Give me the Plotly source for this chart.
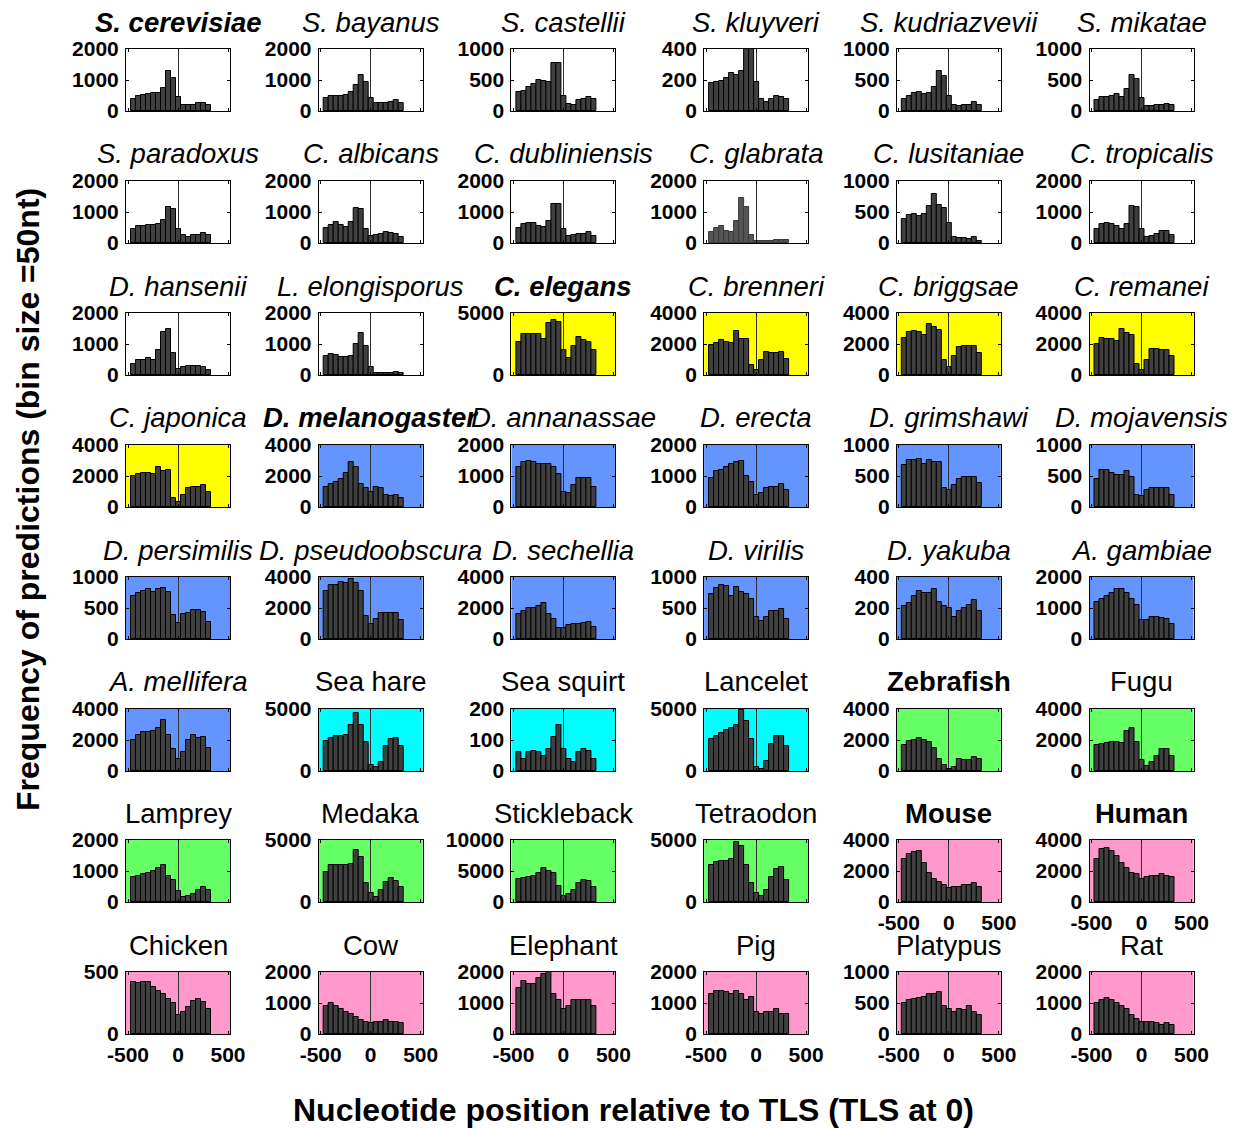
import plotly.graph_objects as go

# ---------------- data ----------------
bin_centers = [-450, -400, -350, -300, -250, -200, -150, -100, -50, 0, 50, 100, 150, 200, 250, 300]
x_tick_values = [-500, 0, 500]
x_tick_text = ["-500", "0", "500"]

titles = [
    "S. cerevisiae", "S. bayanus", "S. castellii", "S. kluyveri", "S. kudriazvevii", "S. mikatae",
    "S. paradoxus", "C. albicans", "C. dubliniensis", "C. glabrata", "C. lusitaniae", "C. tropicalis",
    "D. hansenii", "L. elongisporus", "C. elegans", "C. brenneri", "C. briggsae", "C. remanei",
    "C. japonica", "D. melanogaster", "D. annanassae", "D. erecta", "D. grimshawi", "D. mojavensis",
    "D. persimilis", "D. pseudoobscura", "D. sechellia", "D. virilis", "D. yakuba", "A. gambiae",
    "A. mellifera", "Sea hare", "Sea squirt", "Lancelet", "Zebrafish", "Fugu",
    "Lamprey", "Medaka", "Stickleback", "Tetraodon", "Mouse", "Human",
    "Chicken", "Cow", "Elephant", "Pig", "Platypus", "Rat",
]
# b = bold, i = italic
title_styles = [
    "bi", "i", "i", "i", "i", "i",
    "i", "i", "i", "i", "i", "i",
    "i", "i", "bi", "i", "i", "i",
    "i", "bi", "i", "i", "i", "i",
    "i", "i", "i", "i", "i", "i",
    "i", "", "", "", "b", "",
    "", "", "", "", "b", "b",
    "", "", "", "", "", "",
]
y_max = [
    2000, 2000, 1000, 400, 1000, 1000,
    2000, 2000, 2000, 2000, 1000, 2000,
    2000, 2000, 5000, 4000, 4000, 4000,
    4000, 4000, 2000, 2000, 1000, 1000,
    1000, 4000, 4000, 1000, 400, 2000,
    4000, 5000, 200, 5000, 4000, 4000,
    2000, 5000, 10000, 5000, 4000, 4000,
    500, 2000, 2000, 2000, 1000, 2000,
]
group_of_panel = [
    "yeast", "yeast", "yeast", "yeast", "yeast", "yeast",
    "yeast", "yeast", "yeast", "yeast", "yeast", "yeast",
    "yeast", "yeast", "worm", "worm", "worm", "worm",
    "worm", "insect", "insect", "insect", "insect", "insect",
    "insect", "insect", "insect", "insect", "insect", "insect",
    "insect", "invert", "invert", "invert", "fish", "fish",
    "fish", "fish", "fish", "fish", "mammal", "mammal",
    "mammal", "mammal", "mammal", "mammal", "mammal", "mammal",
]
group_colors = {
    "yeast": "#FFFFFF",
    "worm": "#FFFF00",
    "insect": "#6495FF",
    "invert": "#00FFFF",
    "fish": "#66FF66",
    "mammal": "#FF99CC",
}

counts_s_cerevisiae = [400, 480, 520, 550, 580, 580, 750, 1300, 1050, 450, 200, 200, 200, 250, 260, 180]
counts_s_bayanus = [430, 470, 500, 500, 510, 600, 830, 1150, 950, 430, 270, 250, 270, 290, 350, 270]
counts_s_castellii = [300, 330, 380, 430, 500, 480, 460, 770, 770, 250, 120, 90, 170, 190, 230, 200]
counts_s_kluyveri = [180, 185, 195, 210, 245, 235, 255, 400, 400, 190, 80, 60, 75, 100, 90, 75]
counts_s_kudriazvevii = [200, 250, 290, 310, 280, 290, 380, 640, 570, 250, 90, 80, 90, 100, 150, 100]
counts_s_mikatae = [170, 220, 230, 250, 280, 230, 350, 580, 510, 210, 80, 80, 90, 100, 120, 100]

counts_s_paradoxus = [450, 550, 560, 570, 580, 600, 750, 1150, 1100, 450, 250, 200, 250, 250, 320, 250]
counts_c_albicans = [500, 570, 680, 580, 520, 680, 1120, 1100, 440, 220, 250, 280, 340, 330, 300, 200]
counts_c_dubliniensis = [500, 620, 650, 650, 560, 520, 700, 1250, 1250, 450, 220, 250, 280, 300, 370, 220]
counts_c_glabrata = [350, 490, 550, 400, 340, 700, 1450, 1150, 250, 60, 60, 70, 80, 100, 110, 110]
counts_c_lusitaniae = [380, 450, 460, 440, 470, 600, 790, 610, 570, 330, 100, 80, 80, 70, 90, 30]
counts_c_tropicalis = [450, 600, 650, 620, 550, 450, 620, 1200, 1150, 450, 200, 220, 300, 400, 400, 250]

counts_d_hansenii = [350, 500, 480, 550, 500, 800, 1400, 1500, 700, 200, 250, 300, 290, 280, 260, 170]
counts_l_elongisporus = [600, 680, 630, 590, 580, 600, 1000, 1350, 950, 250, 70, 70, 70, 80, 100, 60]
counts_c_elegans = [2700, 3300, 3300, 3300, 3300, 2900, 4200, 4400, 4300, 2000, 1400, 2300, 3100, 2800, 2700, 2000]
counts_c_brenneri = [1950, 2050, 2250, 2100, 2050, 2850, 2300, 2350, 650, 350, 950, 1500, 1450, 1450, 1500, 1050]
counts_c_briggsae = [2400, 2750, 2850, 2800, 2600, 3300, 3100, 2900, 1000, 500, 1200, 1800, 1850, 1850, 1850, 1400]
counts_c_remanei = [2000, 2400, 2300, 2350, 2200, 2950, 2700, 2550, 700, 300, 1000, 1700, 1650, 1600, 1600, 1250]

counts_c_japonica = [2000, 2150, 2200, 2200, 2100, 2600, 2300, 2400, 600, 300, 800, 1250, 1300, 1300, 1450, 1000]
counts_d_melanogaster = [1300, 1500, 1600, 1800, 2200, 2900, 2600, 1500, 1200, 1000, 1300, 1250, 800, 700, 800, 600]
counts_d_annanassae = [1300, 1450, 1500, 1450, 1400, 1380, 1400, 1300, 1050, 500, 450, 700, 950, 950, 950, 650]
counts_d_erecta = [950, 1150, 1200, 1300, 1400, 1450, 1500, 1000, 800, 400, 450, 600, 650, 650, 750, 550]
counts_d_grimshawi = [680, 760, 760, 770, 700, 760, 720, 720, 300, 270, 350, 450, 480, 480, 480, 380]
counts_d_mojavensis = [450, 600, 600, 550, 520, 520, 580, 480, 200, 180, 270, 300, 300, 300, 300, 190]

counts_d_persimilis = [700, 740, 770, 810, 760, 800, 830, 760, 380, 260, 400, 420, 460, 470, 440, 280]
counts_d_pseudoobscura = [3100, 3500, 3500, 3700, 3600, 3900, 3600, 3100, 1500, 1000, 1300, 1650, 1650, 1650, 1650, 1200]
counts_d_sechellia = [1600, 1800, 2000, 2000, 2100, 2300, 1600, 1300, 700, 700, 900, 1000, 1000, 1050, 1100, 800]
counts_d_virilis = [720, 830, 870, 850, 700, 840, 760, 720, 650, 360, 290, 350, 450, 450, 490, 320]
counts_d_yakuba = [210, 230, 280, 310, 300, 300, 320, 240, 210, 200, 140, 180, 200, 220, 250, 180]
counts_a_gambiae = [1200, 1300, 1400, 1500, 1600, 1600, 1500, 1300, 1100, 600, 600, 700, 700, 680, 650, 500]

counts_a_mellifera = [2000, 2300, 2500, 2500, 2600, 2800, 3300, 2300, 1400, 800, 1200, 2000, 2300, 2100, 2200, 1500]
counts_sea_hare = [2400, 2700, 2800, 2800, 2900, 3700, 4700, 3700, 2300, 500, 300, 700, 2000, 2600, 2700, 2000]
counts_sea_squirt = [60, 40, 60, 65, 60, 50, 70, 110, 150, 70, 40, 30, 60, 70, 65, 40]
counts_lancelet = [2600, 2800, 3100, 3300, 3500, 3700, 4900, 4000, 2600, 300, 200, 800, 2200, 2800, 2800, 2000]
counts_zebrafish = [1700, 1950, 2000, 2100, 2000, 1900, 1500, 800, 400, 150, 250, 800, 700, 700, 900, 800]
counts_fugu = [1700, 1750, 1800, 1850, 1850, 1800, 2600, 2750, 1900, 700, 300, 600, 1000, 1400, 1450, 1000]

counts_lamprey = [800, 850, 900, 950, 1000, 1100, 1200, 850, 700, 350, 150, 200, 250, 400, 500, 400]
counts_medaka = [2400, 3000, 3000, 3000, 3000, 3100, 4200, 3600, 1500, 700, 400, 1000, 1600, 1900, 1700, 1200]
counts_stickleback = [3700, 3900, 4000, 4200, 4600, 5500, 5000, 4700, 2600, 1000, 1300, 2000, 3000, 3500, 3400, 2400]
counts_tetraodon = [3000, 3200, 3300, 3300, 3500, 4800, 4500, 3000, 1500, 700, 500, 1000, 2000, 2700, 2800, 1800]
counts_mouse = [2800, 3100, 3200, 3300, 2500, 1900, 1500, 1300, 1100, 900, 1000, 1000, 1100, 1100, 1200, 1000]
counts_human = [2800, 3400, 3500, 3300, 3000, 2500, 2200, 1900, 1800, 1500, 1600, 1700, 1700, 1800, 1700, 1600]

counts_chicken = [420, 410, 420, 420, 380, 350, 320, 280, 250, 150, 180, 220, 270, 280, 260, 200]
counts_cow = [900, 1000, 900, 800, 700, 650, 550, 450, 400, 350, 400, 400, 450, 400, 400, 350]
counts_elephant = [1500, 1700, 1600, 1600, 1800, 1950, 2000, 1300, 1100, 800, 900, 1100, 1100, 1100, 1100, 900]
counts_pig = [1300, 1400, 1400, 1350, 1300, 1400, 1300, 1100, 1200, 700, 650, 700, 700, 800, 650, 650]
counts_platypus = [500, 550, 560, 580, 600, 650, 650, 680, 450, 400, 350, 400, 380, 450, 350, 300]
counts_rat = [1000, 1100, 1150, 1100, 1000, 900, 800, 600, 500, 400, 400, 400, 350, 300, 350, 300]

all_counts = [
    counts_s_cerevisiae, counts_s_bayanus, counts_s_castellii, counts_s_kluyveri, counts_s_kudriazvevii, counts_s_mikatae,
    counts_s_paradoxus, counts_c_albicans, counts_c_dubliniensis, counts_c_glabrata, counts_c_lusitaniae, counts_c_tropicalis,
    counts_d_hansenii, counts_l_elongisporus, counts_c_elegans, counts_c_brenneri, counts_c_briggsae, counts_c_remanei,
    counts_c_japonica, counts_d_melanogaster, counts_d_annanassae, counts_d_erecta, counts_d_grimshawi, counts_d_mojavensis,
    counts_d_persimilis, counts_d_pseudoobscura, counts_d_sechellia, counts_d_virilis, counts_d_yakuba, counts_a_gambiae,
    counts_a_mellifera, counts_sea_hare, counts_sea_squirt, counts_lancelet, counts_zebrafish, counts_fugu,
    counts_lamprey, counts_medaka, counts_stickleback, counts_tetraodon, counts_mouse, counts_human,
    counts_chicken, counts_cow, counts_elephant, counts_pig, counts_platypus, counts_rat,
]

x_title = "Nucleotide position relative to TLS (TLS at 0)"
y_title = "Frequency of predictions (bin size =50nt)"

# ---------------- layout ----------------
W, H = 1245, 1128
OFF = 8  # page body margin: the figure div starts 8 px right/down
FONT = "Liberation Sans, Arial, Helvetica, sans-serif"
col_left = [126 - OFF, 318.7 - OFF, 511.4 - OFF, 704.1 - OFF, 896.8 - OFF, 1089.5 - OFF]
box_w = 104
row_top = [49 - OFF, 181 - OFF, 313 - OFF, 445 - OFF, 577 - OFF, 709 - OFF, 840 - OFF, 972 - OFF]
box_h = 62
x_label_panels = {40, 41, 42, 43, 44, 45, 46, 47}

fig = go.Figure()
layout = dict(
    width=W, height=H,
    margin=dict(l=0, r=0, t=0, b=0, autoexpand=False),
    paper_bgcolor="white", plot_bgcolor="white",
    showlegend=False, bargap=0,
    font=dict(family=FONT, color="black"),
)
shapes = []
annotations = []

for i, (name, style, ymx, grp, cnt) in enumerate(zip(titles, title_styles, y_max, group_of_panel, all_counts)):
    r, c = divmod(i, 6)
    n = i + 1
    xs = "" if n == 1 else str(n)
    x0 = col_left[c] / W
    x1 = (col_left[c] + box_w) / W
    y1 = 1 - row_top[r] / H
    y0 = 1 - (row_top[r] + box_h) / H

    bar_color = "#555555" if name == "C. glabrata" else "#404040"
    edge_color = "#3a3a3a" if name == "C. glabrata" else "black"
    fig.add_trace(go.Bar(
        x=bin_centers, y=cnt, width=50,
        marker=dict(color=bar_color, line=dict(color=edge_color, width=1)),
        xaxis="x" + xs, yaxis="y" + xs, hoverinfo="x+y",
    ))

    yticks = [0, ymx] if str(ymx).startswith("5") and ymx != 10000 else [0, ymx // 2, ymx]
    layout["xaxis" + xs] = dict(
        domain=[x0, x1], anchor="y" + xs, range=[-520, 520], automargin=False,
        tickvals=x_tick_values, ticktext=x_tick_text,
        showticklabels=(i in x_label_panels),
        ticks="inside", ticklen=3, tickcolor="black",
        showline=True, linecolor="black", linewidth=1, mirror="ticks",
        showgrid=False, zeroline=True, zerolinecolor="#303030", zerolinewidth=1,
        tickfont=dict(family=FONT, size=21, color="black", weight="bold"),
        ticklabelstandoff=2, fixedrange=True,
    )
    layout["yaxis" + xs] = dict(
        domain=[y0, y1], anchor="x" + xs, range=[0, ymx], automargin=False,
        tickvals=yticks, ticktext=[str(v) for v in yticks],
        ticks="inside", ticklen=3, tickcolor="black",
        showline=True, linecolor="black", linewidth=1, mirror="ticks",
        showgrid=False, zeroline=False,
        tickfont=dict(family=FONT, size=21, color="black", weight="bold"),
        ticklabelstandoff=2, fixedrange=True,
    )
    if grp != "yeast":
        shapes.append(dict(
            type="rect", xref=f"x{xs} domain", yref=f"y{xs} domain",
            x0=0, x1=1, y0=0, y1=1, fillcolor=group_colors[grp],
            line=dict(width=0), layer="below",
        ))
    txt = name
    if "i" in style:
        txt = f"<i>{txt}</i>"
    if "b" in style:
        txt = f"<b>{txt}</b>"
    annotations.append(dict(
        text=txt, x=(col_left[c] + box_w / 2) / W, y=1 - (row_top[r] - 27) / H,
        xref="paper", yref="paper", xanchor="center", yanchor="middle",
        showarrow=False, font=dict(family=FONT, size=27.5, color="black"),
    ))

annotations.append(dict(
    text=f"<b>{x_title}</b>", x=(633 - OFF) / W, y=1 - (1110 - OFF) / H, xref="paper", yref="paper",
    xanchor="center", yanchor="middle", showarrow=False,
    font=dict(family=FONT, size=32, color="black"),
))
annotations.append(dict(
    text=f"<b>{y_title}</b>", x=(28 - OFF) / W, y=1 - (500 - OFF) / H, xref="paper", yref="paper",
    xanchor="center", yanchor="middle", showarrow=False, textangle=-90,
    font=dict(family=FONT, size=32, color="black"),
))

layout["shapes"] = shapes
layout["annotations"] = annotations
fig.update_layout(**layout)
fig.write_html("out.html")
